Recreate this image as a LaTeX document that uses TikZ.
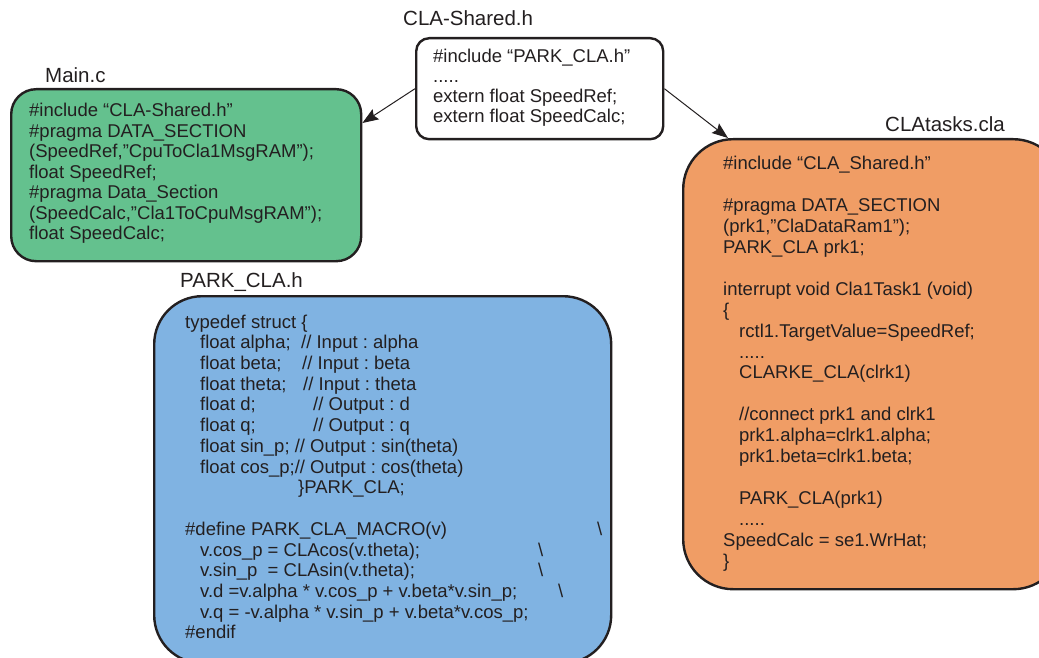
\documentclass[tikz,border=0pt]{standalone}
\usepackage{fontspec}
\setmainfont{Liberation Sans}
\usetikzlibrary{arrows.meta}
\definecolor{ink}{HTML}{231F20}
\definecolor{mgreen}{HTML}{64C18E}
\definecolor{morange}{HTML}{F09D65}
\definecolor{mblue}{HTML}{80B3E2}
\newcommand{\codefont}[1]{\fontsize{18.5}{#1}\selectfont\frenchspacing}
\newcommand{\blk}{\mbox{}\\}
\newcommand{\ind}{\hspace*{15pt}}
\newcommand{\indt}{\hspace*{16pt}}
\newcommand{\bsl}{\textbackslash}
\frenchspacing
\begin{document}
\begin{tikzpicture}[x=1pt,y=-1pt,
  box/.style={draw=ink, line width=2.4pt, rounded corners=#1, inner sep=0pt, anchor=north west},
  code/.style={anchor=base west, inner sep=0pt, text=ink},
  title/.style={anchor=base west, inner sep=0pt, text=ink, font=\fontsize{20.5}{24}\selectfont},
  conn/.style={draw=ink, line width=1pt, -{Stealth[length=16pt,width=12pt,inset=2.5pt]}}
]
\useasboundingbox (0,0) rectangle (1039,658);
\clip (0,0) rectangle (1039,658);

% boxes
\node[box=25pt, fill=mgreen, minimum width=350pt, minimum height=172pt] (mainc) at (10,88) {};
\node[box=13pt, fill=white, minimum width=247pt, minimum height=101pt] (shared) at (415,37) {};
\node[box=50pt, fill=morange, minimum width=380pt, minimum height=450pt] (tasks) at (682,138) {};
\node[box=48pt, fill=mblue, minimum width=457pt, minimum height=367pt] (park) at (153,295) {};

% titles
\node[title] (tmain) at (45,83) {Main.c};
\node[title] (tshared) at (403,26) {CLA-Shared.h};
\node[title] (ttasks) at (885,132) {CLAtasks.cla};
\node[title] (tpark) at (180,287) {PARK\_CLA.h};

% texts
\node[code] (maintext) at (29,117) {\begin{minipage}[t]{330pt}\codefont{20.5}%
\#include “CLA-Shared.h”\\
\#pragma DATA\_SECTION\\
(SpeedRef,”CpuToCla1MsgRAM”);\\
float SpeedRef;\\
\#pragma Data\_Section\\
(SpeedCalc,”Cla1ToCpuMsgRAM”);\\
float SpeedCalc;
\end{minipage}};

\node[code] (sharedtext) at (433,63) {\begin{minipage}[t]{225pt}\codefont{19.7}%
\#include “PARK\_CLA.h”\\
.....\\
extern float SpeedRef;\\
extern float SpeedCalc;
\end{minipage}};

\node[code] (taskstext) at (723,170) {\begin{minipage}[t]{310pt}\codefont{20.9}%
\#include “CLA\_Shared.h”\\
\blk
\#pragma DATA\_SECTION\\
(prk1,”ClaDataRam1”);\\
PARK\_CLA prk1;\\
\blk
interrupt void Cla1Task1 (void)\\
\{\\
\indt rctl1.TargetValue=SpeedRef;\\
\indt .....\\
\indt CLARKE\_CLA(clrk1)\\
\blk
\indt //connect prk1 and clrk1\\
\indt prk1.alpha=clrk1.alpha;\\
\indt prk1.beta=clrk1.beta;\\
\blk
\indt PARK\_CLA(prk1)\\
\indt .....\\
SpeedCalc = se1.WrHat;\\
\}
\end{minipage}};

\node[code] (parktext) at (185,328) {\begin{minipage}[t]{420pt}\codefont{20.73}%
typedef struct \{\\
\ind\makebox[101pt][l]{float alpha;}// Input : alpha\\
\ind\makebox[102pt][l]{float beta;}// Input : beta\\
\ind\makebox[103pt][l]{float theta;}// Input : theta\\
\ind\makebox[113pt][l]{float d;}// Output : d\\
\ind\makebox[113pt][l]{float q;}// Output : q\\
\ind float sin\_p; // Output : sin(theta)\\
\ind float cos\_p;// Output : cos(theta)\\
\hspace*{113pt}\}PARK\_CLA;\\
\blk
\makebox[412pt][l]{\#define PARK\_CLA\_MACRO(v)}\bsl\\
\ind\makebox[338pt][l]{v.cos\_p = CLAcos(v.theta);}\bsl\\
\ind\makebox[338pt][l]{v.sin\_p\ \ = CLAsin(v.theta);}\bsl\\
\ind\makebox[358pt][l]{v.d =v.alpha * v.cos\_p + v.beta*v.sin\_p;}\bsl\\
\ind v.q = -v.alpha * v.sin\_p + v.beta*v.cos\_p;\\
\#endif
\end{minipage}};

% connectors
\draw[conn] (shared.west) -- ([yshift=-35pt]mainc.north east);
\draw[conn] (shared.east) -- ([xshift=46pt]tasks.north west);
\end{tikzpicture}
\end{document}
